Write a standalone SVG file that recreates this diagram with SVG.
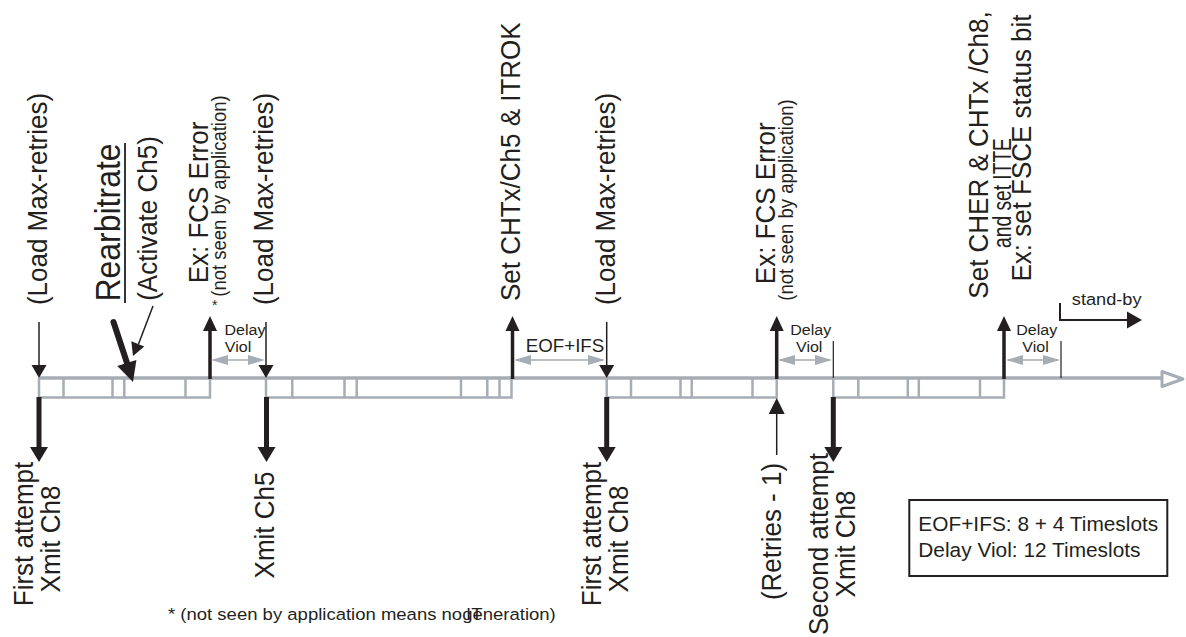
<svg xmlns="http://www.w3.org/2000/svg" width="1186" height="637" viewBox="0 0 1186 637">
<style>
.g{stroke:#a7adb4;fill:none}
.gf{fill:#a7adb4;stroke:none}
.k{stroke:#231f20;fill:none}
.kf{fill:#231f20;stroke:none}
.t{font-family:"Liberation Sans",Arial,sans-serif;fill:#231f20}
.m{text-anchor:middle}
</style>
<rect width="1186" height="637" fill="#fff"/>
<g id="timeline">
<line class="g" x1="39" y1="378" x2="1163" y2="378" stroke-width="3.5"/>
<path class="g" stroke-width="2.5" d="M39,378V397.5H210V378M266,378V397.5H511.5V378M606.7,378V397.5H776.7V378M833.3,378V397.5H1004V378"/>
<path class="g" stroke-width="2.5" d="M63.5,378V397.5M112.5,378V397.5M124.3,378V397.5M185.5,378V397.5M292.3,378V397.5M344.5,378V397.5M356.7,378V397.5M461,378V397.5M487.3,378V397.5M499.5,378V397.5M631,378V397.5M680.5,378V397.5M691.7,378V397.5M752.5,378V397.5M858.3,378V397.5M907.8,378V397.5M918.8,378V397.5M980,378V397.5"/>
<polygon points="1162,371.5 1183,379 1162,386.5" fill="#fff" stroke="#a7adb4" stroke-width="3" stroke-linejoin="round"/>
</g>
<g id="connectors">
<line class="k" x1="39" y1="322" x2="39" y2="366" stroke-width="1.5"/><polygon class="kf" points="31.5,365 39,378 46.5,365"/>
<line class="k" x1="266" y1="322" x2="266" y2="366" stroke-width="1.5"/><polygon class="kf" points="258.5,365 266,378 273.5,365"/>
<line class="k" x1="606.7" y1="322" x2="606.7" y2="366" stroke-width="1.5"/><polygon class="kf" points="599.2,365 606.7,378 614.2,365"/>
<line class="k" x1="210" y1="379" x2="210" y2="330" stroke-width="3.5"/><polygon class="kf" points="203,331 210,316 217,331"/>
<line class="k" x1="512.5" y1="379" x2="512.5" y2="330" stroke-width="3.5"/><polygon class="kf" points="505.5,331 512.5,316 519.5,331"/>
<line class="k" x1="776.7" y1="379" x2="776.7" y2="330" stroke-width="3.5"/><polygon class="kf" points="769.7,331 776.7,316 783.7,331"/>
<line class="k" x1="1004" y1="379" x2="1004" y2="330" stroke-width="3.5"/><polygon class="kf" points="997,331 1004,316 1011,331"/>
<line class="k" x1="39" y1="397" x2="39" y2="448" stroke-width="5"/><polygon class="kf" points="30,447 39,462 48,447"/>
<line class="k" x1="266.5" y1="397" x2="266.5" y2="448" stroke-width="5"/><polygon class="kf" points="257.5,447 266.5,462 275.5,447"/>
<line class="k" x1="606.7" y1="397" x2="606.7" y2="448" stroke-width="5"/><polygon class="kf" points="597.7,447 606.7,462 615.7,447"/>
<line class="k" x1="833.3" y1="397" x2="833.3" y2="448" stroke-width="5"/><polygon class="kf" points="824.3,447 833.3,462 842.3,447"/>
<line class="k" x1="776.7" y1="455" x2="776.7" y2="412" stroke-width="1.5"/><polygon class="kf" points="768.7,414 776.7,398 784.7,414"/>
<line class="k" x1="833.3" y1="341" x2="833.3" y2="378" stroke-width="1.2"/>
<line class="k" x1="1061" y1="341" x2="1061" y2="378" stroke-width="1.2"/>
<line class="g" x1="214" y1="360" x2="262" y2="360" stroke-width="1.5"/><polygon class="gf" points="211,360 228,355 228,365"/><polygon class="gf" points="265,360 248,355 248,365"/>
<line class="g" x1="516" y1="360" x2="603" y2="360" stroke-width="1.5"/><polygon class="gf" points="514,360 531,355 531,365"/><polygon class="gf" points="605,360 588,355 588,365"/>
<line class="g" x1="780" y1="360" x2="830" y2="360" stroke-width="1.5"/><polygon class="gf" points="778,360 795,355 795,365"/><polygon class="gf" points="832,360 815,355 815,365"/>
<line class="g" x1="1008" y1="360" x2="1058" y2="360" stroke-width="1.5"/><polygon class="gf" points="1006,360 1023,355 1023,365"/><polygon class="gf" points="1060,360 1043,355 1043,365"/>
<line class="k" x1="113.5" y1="322" x2="128" y2="366" stroke-width="6" stroke-linecap="round"/>
<polygon class="kf" points="117.3,366 133,382 136.4,360" stroke="#231f20" stroke-width="2" stroke-linejoin="round"/>
<line class="k" x1="153" y1="306" x2="138.5" y2="344" stroke-width="1.5"/>
<polygon class="kf" points="131.3,341.3 133,356 144.3,346.5"/>
<path class="k" stroke-width="2" d="M1060,303V320H1128"/>
<polygon class="kf" points="1127,311.5 1142,320 1127,328.5"/>
</g>
<g id="labels-top">
<text class="t m" font-size="26" transform="translate(46.5,199) scale(1.07,1) rotate(-90)">(Load Max-retries)</text>
<g id="rearbitrate">
<text class="t m" font-size="32" transform="translate(120,222.5) scale(1.07,1) rotate(-90)">Rearbitrate</text>
<line class="k" x1="125" y1="143" x2="125" y2="303" stroke-width="1.8"/>
</g>
<text class="t m" font-size="26" transform="translate(157,218.5) scale(1.07,1) rotate(-90)">(Activate Ch5)</text>
<text class="t m" font-size="26" transform="translate(208,202.5) scale(1.07,1) rotate(-90)">Ex: FCS Error</text>
<text class="t m" font-size="18.5" transform="translate(226,196) scale(1.07,1) rotate(-90)">(not seen by application)</text>
<text class="t" font-size="14" x="212" y="310">*</text>
<text class="t m" font-size="26" transform="translate(273,199) scale(1.07,1) rotate(-90)">(Load Max-retries)</text>
<text class="t m" font-size="26" transform="translate(520,161.7) scale(1.07,1) rotate(-90)">Set CHTx/Ch5 &amp; ITROK</text>
<text class="t m" font-size="26" transform="translate(615,199) scale(1.07,1) rotate(-90)">(Load Max-retries)</text>
<text class="t m" font-size="26" transform="translate(775,203.3) scale(1.07,1) rotate(-90)">Ex: FCS Error</text>
<text class="t m" font-size="18.5" transform="translate(793,200) scale(1.07,1) rotate(-90)">(not seen by application)</text>
<text class="t m" font-size="26" transform="translate(988,155) scale(1.07,1) rotate(-90)">Set CHER &amp; CHTx /Ch8,</text>
<text class="t m" font-size="24" transform="translate(1011,193) scale(1.07,0.8) rotate(-90)">and set ITTE</text>
<text class="t m" font-size="26" transform="translate(1031,148) scale(1.07,1) rotate(-90)">Ex: set FSCE status bit</text>
<text class="t m" font-size="17" transform="translate(1106.7,305) scale(1.07,1)">stand-by</text>
<text class="t m" font-size="15" transform="translate(245,335) scale(1.07,1)">Delay</text>
<text class="t m" font-size="15" transform="translate(238,352) scale(1.07,1)">Viol</text>
<text class="t m" font-size="15" transform="translate(810.7,335) scale(1.07,1)">Delay</text>
<text class="t m" font-size="15" transform="translate(809.2,352) scale(1.07,1)">Viol</text>
<text class="t m" font-size="15" transform="translate(1036.7,335) scale(1.07,1)">Delay</text>
<text class="t m" font-size="15" transform="translate(1035.5,352) scale(1.07,1)">Viol</text>
<text class="t m" font-size="17.5" transform="translate(565,351.7) scale(1.07,1)">EOF+IFS</text>
</g>
<g id="labels-bottom">
<text class="t m" font-size="26" transform="translate(33,534) scale(1.07,1) rotate(-90)">First attempt</text>
<text class="t m" font-size="26" transform="translate(60,539) scale(1.07,1) rotate(-90)">Xmit Ch8</text>
<text class="t m" font-size="26" transform="translate(274,525) scale(1.07,1) rotate(-90)">Xmit Ch5</text>
<text class="t m" font-size="26" transform="translate(601,534) scale(1.07,1) rotate(-90)">First attempt</text>
<text class="t m" font-size="26" transform="translate(628,539) scale(1.07,1) rotate(-90)">Xmit Ch8</text>
<text class="t m" font-size="26" transform="translate(781,531.5) scale(1.07,1) rotate(-90)">(Retries - 1)</text>
<text class="t m" font-size="26" transform="translate(828,544) scale(1.07,1) rotate(-90)">Second attempt</text>
<text class="t m" font-size="26" transform="translate(855,544) scale(1.07,1) rotate(-90)">Xmit Ch8</text>
</g>
<g id="footnote">
<text class="t" font-size="17.3" transform="translate(168,620) scale(1.07,1)">* (not seen by application means nogeneration)</text>
<text class="t" font-size="17.3" transform="translate(466,620) scale(1.07,1)">IT</text>
</g>
<g id="legend">
<rect x="909.3" y="500" width="258" height="76" fill="none" stroke="#231f20" stroke-width="2"/>
<text class="t" font-size="19.5" transform="translate(918.3,530.7) scale(1.07,1)">EOF+IFS: 8 + 4 Timeslots</text>
<text class="t" font-size="19.5" transform="translate(918.3,557) scale(1.07,1)">Delay Viol: 12 Timeslots</text>
</g>
</svg>
